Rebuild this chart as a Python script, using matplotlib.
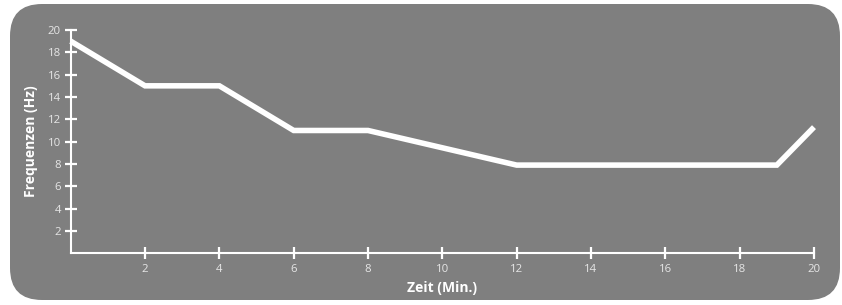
import matplotlib
matplotlib.use("Agg")
import matplotlib.pyplot as plt
from matplotlib.patches import FancyBboxPatch

zeit = [0, 2, 4, 6, 8, 12, 19, 20]
frequenz = [19, 15, 15, 11, 11, 7.9, 7.9, 11.3]
x_ticks = [2, 4, 6, 8, 10, 12, 14, 16, 18, 20]
y_ticks = [2, 4, 6, 8, 10, 12, 14, 16, 18, 20]

plt.rcParams['font.family'] = ['Open Sans', 'DejaVu Sans']

W, H = 842, 305
fig = plt.figure(figsize=(W / 100, H / 100), dpi=100)
fig.patch.set_facecolor('white')

bg = '#7f7f7f'
r = 0.32
box = FancyBboxPatch((0.10 + r, 0.05 + r), 8.30 - 2 * r, 2.96 - 2 * r,
                     boxstyle=f"round,pad={r},rounding_size={r}",
                     transform=fig.dpi_scale_trans, facecolor=bg,
                     edgecolor='none', zorder=-5)
fig.patches.append(box)

left, right, top, bottom = 70.7, 814, 30, 253.3
ax = fig.add_axes([left / W, (H - bottom) / H, (right - left) / W, (bottom - top) / H])
ax.set_zorder(2)
ax.set_facecolor('none')
ax.plot(zeit, frequenz, color='white', lw=4.0, solid_joinstyle='miter',
        solid_capstyle='butt', clip_on=False, zorder=3)
ax.set_xlim(0, 20)
ax.set_ylim(0, 20)
ax.set_xticks(x_ticks)
ax.set_yticks(y_ticks)
for s in ['top', 'right']:
    ax.spines[s].set_visible(False)
for s in ['left', 'bottom']:
    ax.spines[s].set_color('white')
    ax.spines[s].set_linewidth(1.5)
ax.tick_params(direction='inout', length=8, width=1.6, color='white',
               labelcolor='#e6e6e6', labelsize=8.2)
ax.tick_params(axis='x', pad=4)
ax.tick_params(axis='y', pad=3)
ax.set_xlabel('Zeit (Min.)', color='white', fontsize=10, fontweight='bold', labelpad=4)
ax.set_ylabel('Frequenzen (Hz)', color='white', fontsize=10, fontweight='bold', labelpad=7)

fig.savefig('out.png', dpi=100, facecolor='white')
